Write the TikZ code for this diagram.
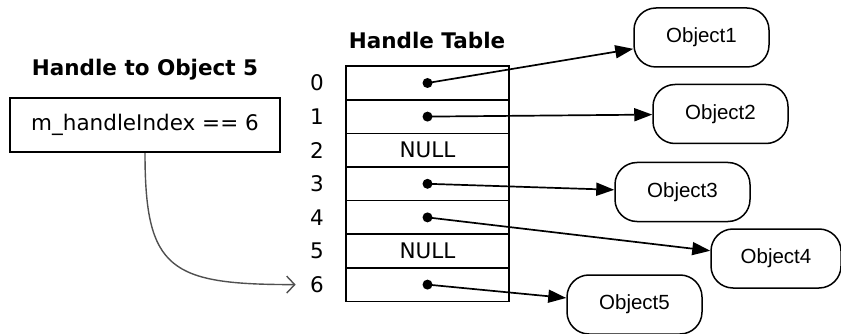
\documentclass[tikz,border=0pt]{standalone}
\usepackage{fontspec}
\setmainfont{DejaVu Sans}
\newfontfamily\objfont{Liberation Sans}
\usepackage{tikz}
\usetikzlibrary{positioning,arrows.meta}
\definecolor{curv}{RGB}{80,80,80}
\newcommand{\slotrow}[3]{%
  \node[slot] (row#1) at (427.5,#2) {#3};
  \node (idx#1) at (317,#2) {#1};}

\begin{document}
\begin{tikzpicture}[x=1pt,y=-1pt,font=\fontsize{21.5}{25}\selectfont,
  slot/.style={draw,line width=1.7pt,minimum width=163pt,minimum height=33.6pt,inner sep=0pt},
  objbox/.style={draw,rounded corners=22pt,line width=1.5pt,minimum width=135pt,minimum height=59pt,font=\objfont\fontsize{20.5}{24}\selectfont},
  ptr/.style={line width=1.7pt,-{Triangle[length=18pt,width=13pt]}}]
\useasboundingbox (0,0) rectangle (841,334);
% ---- handle ----
\node[font=\fontsize{21.5}{25}\selectfont\bfseries] (htitle) at (145,70) {Handle to Object 5};
\node[draw,line width=1.7pt,minimum width=270pt,minimum height=54.5pt] (hbox) at (145,125) {m\_handleIndex == 6};
% ---- handle table (row pitch 33.6) ----
\node[font=\fontsize{21.5}{25}\selectfont\bfseries] (ttitle) at (427,40) {Handle Table};
\slotrow{0}{83.0}{}
\slotrow{1}{116.6}{}
\slotrow{2}{150.2}{NULL}
\slotrow{3}{183.8}{}
\slotrow{4}{217.4}{}
\slotrow{5}{251.0}{NULL}
\slotrow{6}{284.6}{}
\foreach \r in {0,1,3,4,6} \fill (row\r.center) circle (5pt);
% ---- objects ----
\node[objbox] (obj1) at (701.5,37.5) {Object1};
\node[objbox] (obj2) at (720.5,114) {Object2};
\node[objbox] (obj3) at (682.5,192) {Object3};
\node[objbox,minimum width=130pt] (obj4) at (776,258.5) {Object4};
\node[objbox] (obj5) at (634.5,304.5) {Object5};
\draw[ptr] (row0.center) -- (obj1);
\draw[ptr] (row1.center) -- (obj2);
\draw[ptr] (row3.center) -- (obj3);
\draw[ptr] (row4.center) -- (obj4);
\draw[ptr] (row6.center) -- (obj5);
% ---- index lookup ----
\coordinate[left=11pt of idx6] (in6);
\draw[curv,line width=1.4pt,-{Straight Barb[length=8pt,width=17pt]}] (hbox.south) .. controls (145,270) and (170,284.6) .. (in6);
\end{tikzpicture}
\end{document}
